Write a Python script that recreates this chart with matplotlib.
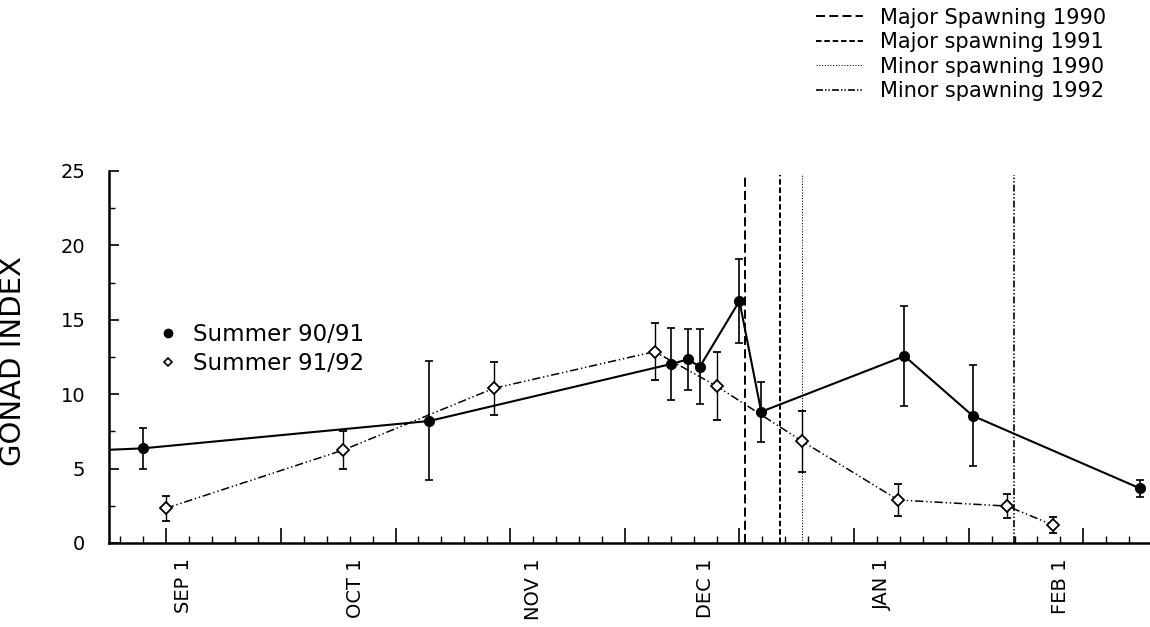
import matplotlib
matplotlib.use("Agg")
import matplotlib.pyplot as plt
from matplotlib.lines import Line2D
from matplotlib.ticker import MultipleLocator

plt.rcParams['font.family'] = ['DejaVu Sans']
plt.rcParams['lines.scale_dashes'] = False

# day of year (0 = Jan 1 1990, continues past Dec 31)
day_90 = [220, 235.9, 285.9, 328.1, 331.0, 333.1, 340.0, 343.8, 368.8, 380.7, 409.9]
gi_90 = [6.10, 6.36, 8.20, 12.03, 12.34, 11.85, 16.26, 8.82, 12.56, 8.55, 3.67]
err_90 = [0, 1.4, 4.0, 2.45, 2.05, 2.5, 2.8, 2.0, 3.35, 3.4, 0.56]

day_91 = [239.9, 270.9, 297.1, 325.2, 336.0, 350.9, 367.7, 386.7, 394.7]
gi_91 = [2.33, 6.25, 10.39, 12.86, 10.55, 6.85, 2.89, 2.48, 1.21]
err_91 = [0.86, 1.3, 1.8, 1.9, 2.3, 2.05, 1.1, 0.82, 0.52]

spawn_days = [341.0, 347.0, 351.0, 387.9]
spawn_labels = ['Major Spawning 1990', 'Major spawning 1991',
                'Minor spawning 1990', 'Minor spawning 1992']
spawn_styles = [(0, (6.5, 3)), (0, (4, 2)), (0, (0.8, 1.2)), (0, (5, 1.5, 1, 1.5, 1, 1.5))]
spawn_widths = [1.4, 1.4, 0.7, 1.2]

month_days = [243, 273, 304, 334, 365, 396]
month_labels = ['SEP 1', 'OCT 1', 'NOV 1', 'DEC 1', 'JAN 1', 'FEB 1']

series_labels = ['Summer 90/91', 'Summer 91/92']

fig = plt.figure(figsize=(11.5, 6.27), dpi=100)
ax = fig.add_axes([0.0948, 0.134, 0.907, 0.5933])

dashdotdot = (0, (6, 2, 1, 2, 1, 2))

ax.errorbar(day_90, gi_90, yerr=err_90, fmt='-o', color='black', lw=1.5,
            ms=7, elinewidth=1.2, capsize=3, capthick=1.2, zorder=3)
ax.errorbar(day_91, gi_91, yerr=err_91, fmt='D', color='black', ms=6,
            mfc='white', mec='black', mew=1.3, elinewidth=1.0, capsize=3,
            capthick=1.0, zorder=4)
ax.plot(day_91, gi_91, color='black', lw=1.1, ls=dashdotdot, zorder=2)

for d, st, w in zip(spawn_days, spawn_styles, spawn_widths):
    ax.vlines(d, 0, 24.7, colors='black', linestyles=[st], lw=w, zorder=1)

ax.set_xlim(230, 412)
ax.set_ylim(0, 25)

for s in ['top', 'right']:
    ax.spines[s].set_visible(False)
for s in ['left', 'bottom']:
    ax.spines[s].set_linewidth(1.8)

ax.xaxis.set_major_locator(MultipleLocator(20))
ax.xaxis.set_minor_locator(MultipleLocator(4))
ax.tick_params(axis='x', which='major', direction='in', length=11, width=1.2, labelbottom=False)
ax.tick_params(axis='x', which='minor', direction='in', length=5, width=1.0)

ax.yaxis.set_major_locator(MultipleLocator(5))
ax.yaxis.set_minor_locator(MultipleLocator(2.5))
ax.tick_params(axis='y', which='major', direction='in', length=7, width=1.2,
               labelsize=14, pad=17)
ax.tick_params(axis='y', which='minor', direction='in', length=4, width=1.0)

secax = ax.secondary_xaxis('bottom')
secax.set_xticks(month_days, month_labels, rotation=90, fontsize=14)
secax.tick_params(length=0, pad=11)
secax.spines['bottom'].set_visible(False)

ax.set_ylabel('GONAD INDEX', fontsize=21)
ax.yaxis.set_label_coords(-0.079, 0.49)

series_handles = [
    Line2D([], [], marker='o', ls='none', color='black', ms=6),
    Line2D([], [], marker='D', ls='none', mfc='white', mec='black', mew=1.2, ms=4.5),
]
ax.legend(series_handles, series_labels, loc='center left', bbox_to_anchor=(0.0458, 0.521),
          frameon=False, fontsize=16.5, handlelength=1.0, handletextpad=0.58,
          labelspacing=0.28, borderpad=0, borderaxespad=0)

spawn_handles = [Line2D([], [], color='black', ls=st, lw=w)
                 for st, w in zip(spawn_styles, spawn_widths)]
fig.legend(spawn_handles, spawn_labels, loc='upper left', bbox_to_anchor=(0.7096, 0.988),
           frameon=False, fontsize=15, handlelength=2.25, handletextpad=0.8,
           labelspacing=0.22, borderpad=0, borderaxespad=0)

fig.savefig('out.png', dpi=100)
